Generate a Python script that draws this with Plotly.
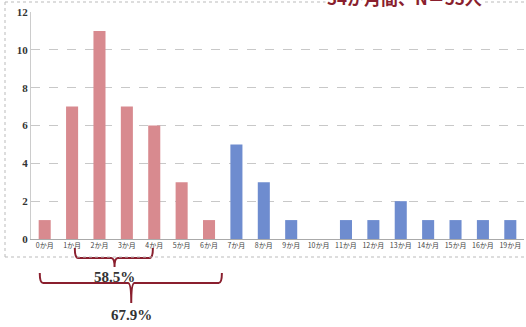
import plotly.graph_objects as go

months = ["0か月", "1か月", "2か月", "3か月", "4か月", "5か月", "6か月", "7か月", "8か月",
          "9か月", "10か月", "11か月", "12か月", "13か月", "14か月", "15か月", "16か月", "19か月"]
counts = [1, 7, 11, 7, 6, 3, 1, 5, 3, 1, 0, 1, 1, 2, 1, 1, 1, 1]
early_n = 7  # first seven categories drawn in pink
y_ticks = [0, 2, 4, 6, 8, 10, 12]
title_text = "34か月間、N＝53人"
brace_inner_label = "58.5%"
brace_outer_label = "67.9%"

PINK = "#d88a8f"
BLUE = "#6e8ccf"
RED = "#8a1f2e"

xs = list(range(len(months)))
colors = [PINK if i < early_n else BLUE for i in xs]

fig = go.Figure()
fig.add_trace(go.Bar(x=xs, y=counts, marker=dict(color=colors, line=dict(width=0)),
                     width=0.44, showlegend=False))

L, R, T, B = 31, 2, 12, 88
W, H = 526, 327
pw, ph = W - L - R, H - T - B


def py(pix):
    return (H - B - pix) / ph


def px(pix):
    return (pix - L) / pw


def brace_path(x0, x1, ytop, ymid, ytip, xc):
    r = 0.12
    return (f"M {x0},{ytop} Q {x0},{ymid} {x0 + r},{ymid} L {xc - r},{ymid} "
            f"Q {xc},{ymid} {xc},{ytip} Q {xc},{ymid} {xc + r},{ymid} "
            f"L {x1 - r},{ymid} Q {x1},{ymid} {x1},{ytop}")


shapes = [
    dict(type="path", xref="x", yref="paper",
         path=brace_path(1.1, 3.95, py(248), py(258), py(267), 2.55),
         line=dict(color=RED, width=2)),
    dict(type="path", xref="x", yref="paper",
         path=brace_path(-0.18, 6.47, py(273), py(283), py(303), 3.16),
         line=dict(color=RED, width=2)),
    dict(type="line", xref="paper", yref="paper", x0=px(5), x1=px(525), y0=py(257), y1=py(257),
         line=dict(color="#bbbbbb", width=1, dash="dot")),
    dict(type="line", xref="paper", yref="paper", x0=px(5), x1=px(5), y0=py(257), y1=py(2),
         line=dict(color="#bbbbbb", width=1, dash="dot")),
    dict(type="line", xref="paper", yref="paper", x0=px(5), x1=px(525), y0=py(2), y1=py(2),
         line=dict(color="#bbbbbb", width=1, dash="dot")),
]

annotations = [
    dict(x=2.55, y=py(277), xref="x", yref="paper", text=brace_inner_label, showarrow=False,
         xanchor="center", yanchor="middle",
         font=dict(family="Liberation Serif", size=15, color="#333333", weight="bold")),
    dict(x=3.16, y=py(315), xref="x", yref="paper", text=brace_outer_label, showarrow=False,
         xanchor="center", yanchor="middle",
         font=dict(family="Liberation Serif", size=15, color="#333333", weight="bold")),
    dict(x=px(404), y=py(-2), xref="paper", yref="paper", text=title_text, showarrow=False,
         xanchor="center", yanchor="middle", bgcolor="white",
         font=dict(family="Noto Sans CJK JP", size=17, color=RED, weight="bold")),
]

fig.update_layout(
    width=W, height=H, margin=dict(l=L, r=R, t=T, b=B),
    plot_bgcolor="white", paper_bgcolor="white",
    shapes=shapes, annotations=annotations, bargap=0.5,
    xaxis=dict(range=[-0.5, len(months) - 0.5], tickvals=xs, ticktext=months,
               tickfont=dict(family="Noto Sans CJK JP", size=7, color="#444444"),
               showgrid=False, showline=True, linecolor="#aaaaaa", linewidth=1,
               ticks="", ticklen=0),
    yaxis=dict(range=[0, 12], tickvals=y_ticks, showgrid=True, gridcolor="#c8c8c8",
               griddash="dash", gridwidth=1, zeroline=False,
               showline=True, linecolor="#cccccc", linewidth=1,
               tickfont=dict(family="Liberation Serif", size=11, color="#333333", weight="bold")),
)

fig.write_html("out.html", config={"displayModeBar": False},
               post_script="document.body.style.margin='0';document.body.style.overflow='hidden';")
